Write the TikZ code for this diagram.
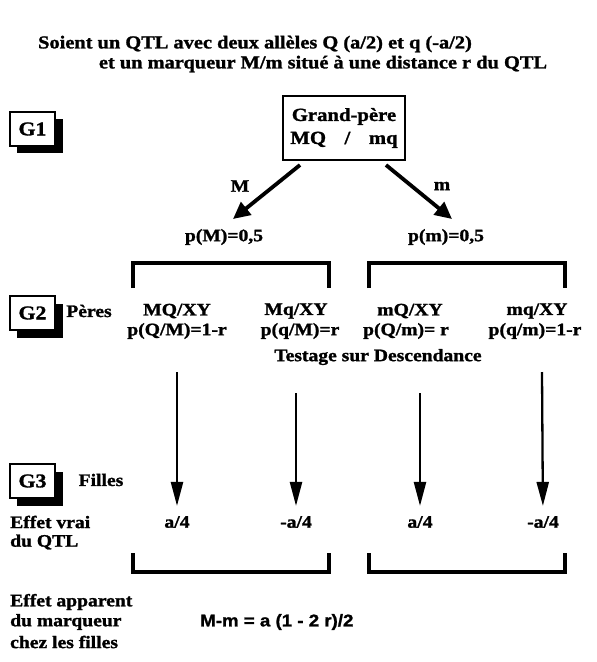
\documentclass[tikz,border=0pt]{standalone}
\usepackage{fontspec}
\setmainfont{Liberation Serif}[FakeStretch=1.12, BoldFeatures={FakeBold=1.4}]
\newfontfamily\arialb{Liberation Sans}[FakeStretch=1.1, BoldFeatures={FakeBold=1.2}]
\usetikzlibrary{arrows.meta}
\begin{document}
\begin{tikzpicture}[x=1pt,y=-1pt,
  txt/.style={font=\fontsize{17.5}{21}\selectfont\bfseries, inner sep=0pt},
  ttl/.style={font=\fontsize{18.2}{21}\selectfont\bfseries, inner sep=0pt},
  gbox/.style={draw, line width=1.8pt, fill=white, minimum width=45pt, minimum height=34pt, inner sep=0pt, font=\fontsize{19.5}{21}\selectfont\bfseries},
  shadow/.style={fill=black},
  bracket/.style={line width=3.5pt},
  bigarrow/.style={line width=3.8pt, -{Triangle[length=17pt,width=16pt]}},
  downarrow/.style={line width=2.3pt, -{Triangle[length=24pt,width=12pt]}}]
\useasboundingbox (0,0) rectangle (597,662);
% title
\node[ttl] (t1) at (255,44) {Soient un QTL avec deux allèles Q (a/2) et q (-a/2)};
\node[ttl] (t2) at (323,64) {et un marqueur M/m situé à une distance r du QTL};
% G1
\fill[shadow] (17,119) rectangle (63,153);
\node[gbox] (g1) at (32.5,129) {G1};
\node[draw, line width=1.8pt, minimum width=122pt, minimum height=64pt, align=center, font=\fontsize{18.5}{23}\selectfont\bfseries, inner sep=0pt] (gp) at (344,128) {Grand-père\\MQ\quad/\quad mq};
\node[txt] (pM) at (224,237) {p(M)=0,5};
\node[txt] (pm) at (446,237) {p(m)=0,5};
\coordinate (la) at (300,165);
\coordinate (lb) at (233,219);
\coordinate (ra) at (386,165);
\coordinate (rb) at (452,219);
\draw[bigarrow] (la) -- (lb);
\draw[bigarrow] (ra) -- (rb);
\node[txt] (lM) at (240,186) {M};
\node[txt] (lm) at (442,186) {m};
% top brackets
\draw[bracket] (133,288) -- (133,263) -- (329,263) -- (329,288);
\draw[bracket] (369,288) -- (369,263) -- (565,263) -- (565,288);
% G2
\fill[shadow] (17,304) rectangle (63,338);
\node[gbox] (g2) at (32.5,313) {G2};
\node[txt] (peres) at (89,311) {Pères};
\node[txt] (f1) at (177,311) {MQ/XY};
\node[txt] (f2) at (296,311) {Mq/XY};
\node[txt] (f3) at (410,311) {mQ/XY};
\node[txt] (f4) at (537,311) {mq/XY};
\node[txt] (p1) at (177,331) {p(Q/M)=1-r};
\node[txt] (p2) at (300,331) {p(q/M)=r};
\node[txt] (p3) at (406,331) {p(Q/m)= r};
\node[txt] (p4) at (535,331) {p(q/m)=1-r};
\node[txt] (test) at (378,357) {Testage sur Descendance};
% G3
\fill[shadow] (17,472) rectangle (63,506);
\node[gbox] (g3) at (32.5,481) {G3};
\node[txt] (filles) at (101,480) {Filles};
\node[txt, anchor=west] (ev1) at (10,522) {Effet vrai};
\node[txt, anchor=west] (ev2) at (10,542) {du QTL};
\node[txt] (a1) at (177,522) {a/4};
\node[txt] (a2) at (296,522) {-a/4};
\node[txt] (a3) at (420,522) {a/4};
\node[txt] (a4) at (543,522) {-a/4};
\coordinate (s1) at (177,372);
\coordinate (s2) at (296,393);
\coordinate (s3) at (420,393);
\coordinate (s4) at (542,372);
\draw[downarrow, shorten >=10pt] (s1) -- (a1);
\draw[downarrow, shorten >=10pt] (s2) -- (a2);
\draw[downarrow, shorten >=10pt] (s3) -- (a3);
\draw[downarrow, shorten >=10pt] (s4) -- (a4);
% bottom brackets
\draw[bracket] (133,553) -- (133,572) -- (329,572) -- (329,553);
\draw[bracket] (369,553) -- (369,572) -- (565,572) -- (565,553);
% bottom text
\node[txt, anchor=west] (ea1) at (10,602) {Effet apparent};
\node[txt, anchor=west] (ea2) at (10,622) {du marqueur};
\node[txt, anchor=west] (ea3) at (10,642) {chez les filles};
\node[inner sep=0pt, font=\fontsize{17}{20}\selectfont\arialb\bfseries, anchor=west] (form) at (200,622) {M-m = a (1 - 2 r)/2};
\end{tikzpicture}
\end{document}
